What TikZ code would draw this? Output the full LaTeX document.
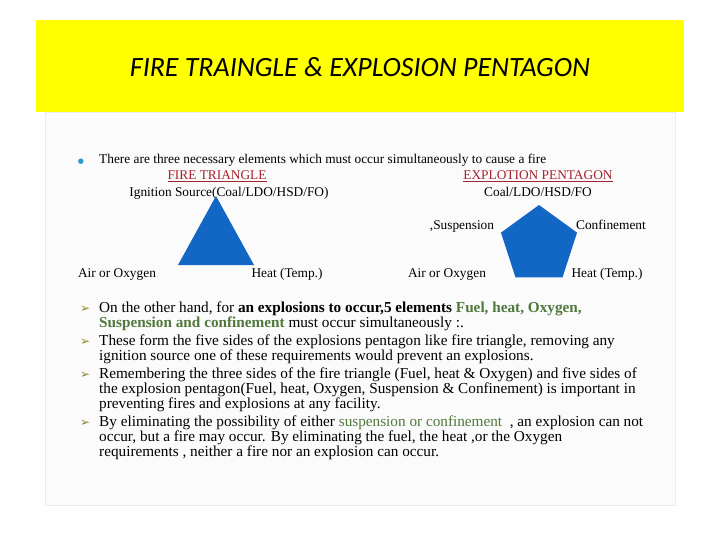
\documentclass[tikz,border=0pt]{standalone}
\usepackage{fontspec}
\setmainfont{Liberation Serif}
\newfontfamily\titlefont{Carlito}
\newfontfamily\symfont{DejaVu Sans}
\usetikzlibrary{shapes.geometric}
\definecolor{slideyellow}{RGB}{255,255,0}
\definecolor{shapeblue}{RGB}{18,102,196}
\definecolor{headred}{RGB}{165,35,45}
\definecolor{termgreen}{RGB}{80,120,60}
\tikzset{
  body/.style={anchor=base west,inner sep=0pt,font=\fontsize{15.3}{17}\selectfont},
  small/.style={anchor=base,inner sep=0pt,font=\fontsize{13.4}{15}\selectfont},
  arrowbul/.style={anchor=base west,inner sep=0pt,text=olive!70!gray,font=\symfont\fontsize{12}{14}\selectfont},
}
\newcommand{\grn}[1]{\textcolor{termgreen}{#1}}
\begin{document}
\begin{tikzpicture}[x=1bp,y=-1bp]
  \useasboundingbox (0,0) rectangle (720,540);
  \fill[white] (0,0) rectangle (720,540);
  \fill[slideyellow] (36,20) rectangle (684,112);
  \draw[gray!15,fill=gray!3] (45,112) rectangle (675,505);
  \node (title) at (360,67) {\titlefont\itshape\fontsize{28}{32}\selectfont FIRE TRAINGLE \& EXPLOSION PENTAGON};
  % intro line
  \node[anchor=base,inner sep=0pt,text=cyan!60!teal,font=\symfont\fontsize{7}{8}\selectfont] (dot) at (81,164) {●};
  \node[small,anchor=base west] (intro) at (99,164) {There are three necessary elements which must occur simultaneously to cause a fire};
  % fire triangle
  \node[small,text=headred] (firehead) at (217,180) {\underline{FIRE TRIANGLE}};
  \node[small] (ignition) at (229,197) {Ignition Source(Coal/LDO/HSD/FO)};
  \fill[shapeblue] (216,196) coordinate (apex) -- (254,265) coordinate (rgt) -- (178,265) coordinate (lft) -- cycle;
  \node[small] (airA) at (117,278) {Air or Oxygen};
  \node[small] (heatA) at (287,278) {Heat (Temp.)};
  % explosion pentagon
  \node[small,text=headred] (pentahead) at (538,180) {\underline{EXPLOTION PENTAGON}};
  \node[small] (coal) at (538,197) {Coal/LDO/HSD/FO};
  \node[regular polygon,regular polygon sides=5,fill=shapeblue,minimum size=80bp,inner sep=0pt] (penta) at (539,245) {};
  \node[small] (susp) at (462,230) {,Suspension};
  \node[small] (conf) at (611,230) {Confinement};
  \node[small] (airB) at (447,278) {Air or Oxygen};
  \node[small] (heatB) at (607,278) {Heat (Temp.)};
  % bullets
  \foreach \y in {312,345,378,426}
    \node[arrowbul] at (80,\y) {➢};
  \node[body] (l1) at (99,312) {On the other hand, for \textbf{an explosions to occur,5 elements} \textbf{\grn{Fuel, heat, Oxygen,}}};
  \node[body] (l2) at (99,327) {\textbf{\grn{Suspension and confinement}} must occur simultaneously :.};
  \node[body] (l3) at (99,345) {These form the five sides of the explosions pentagon like fire triangle, removing any};
  \node[body] (l4) at (99,360) {ignition source one of these requirements would prevent an explosions.};
  \node[body] (l5) at (99,378) {Remembering the three sides of the fire triangle (Fuel, heat \& Oxygen) and five sides of};
  \node[body] (l6) at (99,393) {the explosion pentagon(Fuel, heat, Oxygen, Suspension \& Confinement) is important in};
  \node[body] (l7) at (99,408) {preventing fires and explosions at any facility.};
  \node[body] (l8) at (99,426) {By eliminating the possibility of either \grn{suspension or confinement} \ , an explosion can not};
  \node[body] (l9) at (99,441) {occur, but a fire may\ occur. By eliminating the fuel, the heat ,or the Oxygen};
  \node[body] (l10) at (99,456) {requirements , neither a fire nor an explosion can occur.};
\end{tikzpicture}
\end{document}
